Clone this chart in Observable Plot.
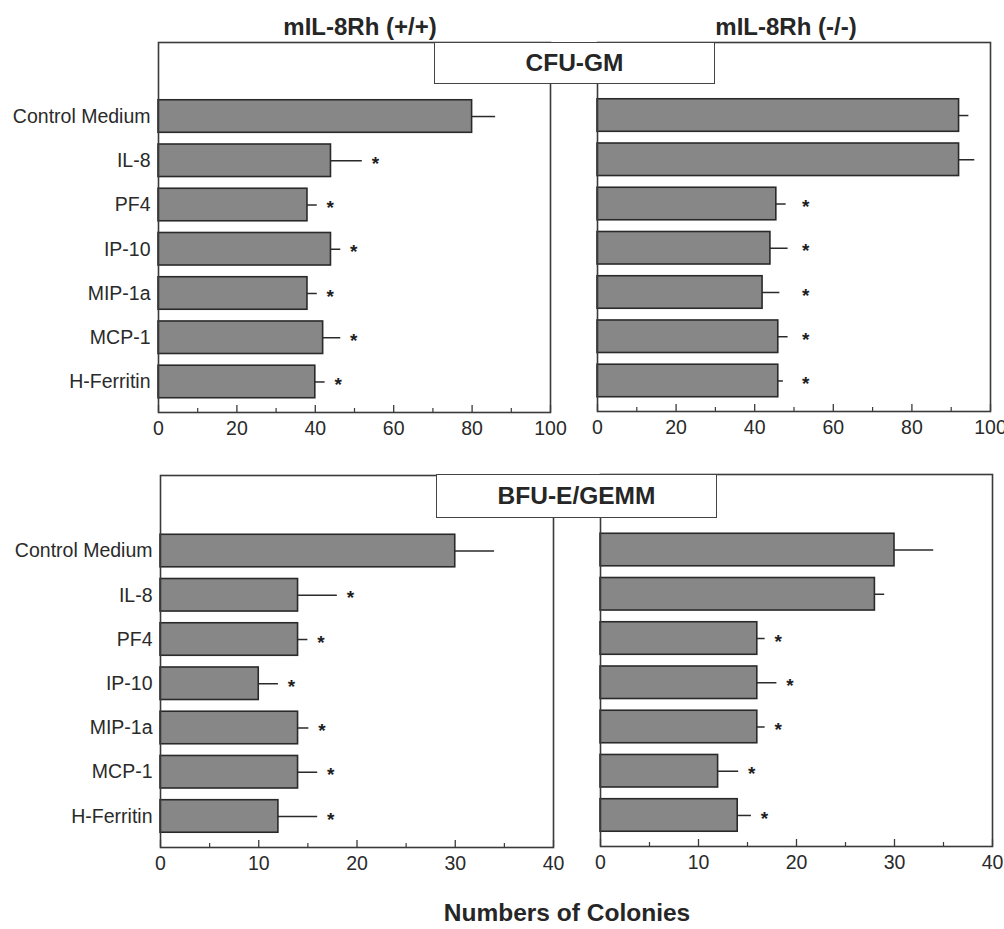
<!DOCTYPE html>
<html>
<head>
<meta charset="utf-8">
<script src="https://cdn.jsdelivr.net/npm/d3@7"></script>
<script src="https://cdn.jsdelivr.net/npm/@observablehq/plot@0.6"></script>
<style>
  body { margin: 0; background: #fff; font-family: "Liberation Sans", Arial, Helvetica, sans-serif; }
  #root { position: relative; width: 1004px; height: 929px; overflow: hidden; background: #fff; }
  #root svg { position: absolute; left: 0; top: 0; }
  .t { position: absolute; font-weight: bold; color: #262626; white-space: nowrap; transform: translate(-50%, -50%); z-index: 6; }
  .box { position: absolute; background: #fff; border: 1.5px solid #444; box-sizing: border-box;
         display: flex; align-items: center; justify-content: center; font-weight: bold;
         font-size: 24.5px; color: #262626; z-index: 5; }
</style>
</head>
<body>
<div id="root"></div>
<script>
// ---------------- data ----------------
const treatments = ["Control Medium", "IL-8", "PF4", "IP-10", "MIP-1a", "MCP-1", "H-Ferritin"];

// CFU-GM, mIL-8Rh (+/+)
const cfuWT      = [80, 44, 38, 44, 38, 42, 40];
const cfuWTerr   = [6, 8, 2.5, 2.5, 2.5, 4.5, 2.5];
const cfuWTsig   = [false, true, true, true, true, true, true];
// CFU-GM, mIL-8Rh (-/-)
const cfuKO      = [92, 92, 45.5, 44, 42, 46, 46];
const cfuKOerr   = [2.5, 4, 2.5, 4.5, 4.4, 2.5, 1.3];
const cfuKOsig   = [false, false, true, true, true, true, true];
// BFU-E/GEMM, mIL-8Rh (+/+)
const bfuWT      = [30, 14, 14, 10, 14, 14, 12];
const bfuWTerr   = [4, 4, 1, 2, 1.1, 2, 4];
const bfuWTsig   = [false, true, true, true, true, true, true];
// BFU-E/GEMM, mIL-8Rh (-/-)
const bfuKO      = [30, 28, 16, 16, 16, 12, 14];
const bfuKOerr   = [4, 1, 0.8, 2, 0.8, 2.1, 1.4];
const bfuKOsig   = [false, false, true, true, true, true, true];

const cfuTicksMajor = [0, 20, 40, 60, 80, 100];
const cfuTicksMinor = [10, 30, 50, 70, 90];
const bfuTicksMajor = [0, 10, 20, 30, 40];
const bfuTicksMinor = [5, 15, 25, 35];

const genotypeTitles = ["mIL-8Rh (+/+)", "mIL-8Rh (-/-)"];
const assayTitles = ["CFU-GM", "BFU-E/GEMM"];
const xTitle = "Numbers of Colonies";
const cfuStarColumnKO = 53; // asterisks aligned in a column in the CFU-GM (-/-) panel

// ---------------- drawing ----------------
const W = 1004, H = 929;
const FONT = "'Liberation Sans', Arial, Helvetica, sans-serif";
const root = document.getElementById("root");

function panel({values, errs, sig, xMax, major, minor, box, yRange, showY, starX}) {
  const [l, t, r, b] = box;
  const data = treatments.map((name, i) => ({name, v: values[i], e: values[i] + errs[i], sig: sig[i]}));
  const inner = b - t;
  const marks = [
    Plot.barX(data, {y: "name", x: "v", fill: "#878787", stroke: "#2a2a2a", strokeWidth: 1.6}),
    Plot.ruleY(data, {y: "name", x1: "v", x2: "e", stroke: "#2a2a2a", strokeWidth: 1.5}),
    Plot.text(data.filter(d => d.sig), {
      y: "name",
      x: starX != null ? () => starX : "e",
      dx: starX != null ? 0 : 13,
      dy: 3,
      text: () => "*",
      fontSize: 19, fontWeight: "bold", fill: "#1e1e1e"
    }),
    Plot.ruleX(major, {x: d => d, insetTop: inner - 7, stroke: "#3a3a3a", strokeWidth: 1.3}),
    Plot.ruleX(minor, {x: d => d, insetTop: inner - 4, stroke: "#3a3a3a", strokeWidth: 1.2}),
    Plot.frame({stroke: "#3a3a3a", strokeWidth: 1.6}),
    Plot.axisX({ticks: major, tickSize: 0, tickPadding: 9, fontSize: 19.5, tickFormat: d => String(d), color: "#2a2a2a", label: null})
  ];
  if (showY) marks.push(Plot.axisY({tickSize: 0, tickPadding: 8, fontSize: 19.5, color: "#2a2a2a", label: null}));
  const yOpts = {domain: treatments, range: yRange, paddingInner: 0.265, paddingOuter: 0.3, round: false};
  if (!showY) yOpts.axis = null;
  const svg = Plot.plot({
    width: W, height: H,
    marginLeft: l, marginRight: W - r, marginTop: t, marginBottom: H - b,
    x: {domain: [0, xMax]},
    y: yOpts,
    style: {background: "transparent", fontFamily: FONT, color: "#2a2a2a", overflow: "visible"},
    marks
  });
  root.appendChild(svg);
}

panel({values: cfuWT, errs: cfuWTerr, sig: cfuWTsig, xMax: 100, major: cfuTicksMajor, minor: cfuTicksMinor,
       box: [158, 42, 550, 412], yRange: [86.5, 411], showY: true});
panel({values: cfuKO, errs: cfuKOerr, sig: cfuKOsig, xMax: 100, major: cfuTicksMajor, minor: cfuTicksMinor,
       box: [597, 42, 990, 411], yRange: [85.5, 410], showY: false, starX: cfuStarColumnKO});
panel({values: bfuWT, errs: bfuWTerr, sig: bfuWTsig, xMax: 40, major: bfuTicksMajor, minor: bfuTicksMinor,
       box: [160, 475, 553, 847], yRange: [521, 845.5], showY: true});
panel({values: bfuKO, errs: bfuKOerr, sig: bfuKOsig, xMax: 40, major: bfuTicksMajor, minor: bfuTicksMinor,
       box: [600, 474, 992, 846], yRange: [520, 844.5], showY: false});

function addText(cls, text, x, y, size) {
  const d = document.createElement("div");
  d.className = cls;
  d.textContent = text;
  d.style.left = x + "px";
  d.style.top = y + "px";
  d.style.fontSize = size + "px";
  root.appendChild(d);
}
function addBox(text, x, y, w, h) {
  const d = document.createElement("div");
  d.className = "box";
  d.textContent = text;
  Object.assign(d.style, {left: x + "px", top: y + "px", width: w + "px", height: h + "px"});
  root.appendChild(d);
}

addText("t", genotypeTitles[0], 360, 27, 24);
addText("t", genotypeTitles[1], 786, 27, 24);
addBox(assayTitles[0], 434, 42, 281, 42);
addBox(assayTitles[1], 436, 474, 281, 44);
addText("t", xTitle, 567, 913, 24.5);
</script>
</body>
</html>
